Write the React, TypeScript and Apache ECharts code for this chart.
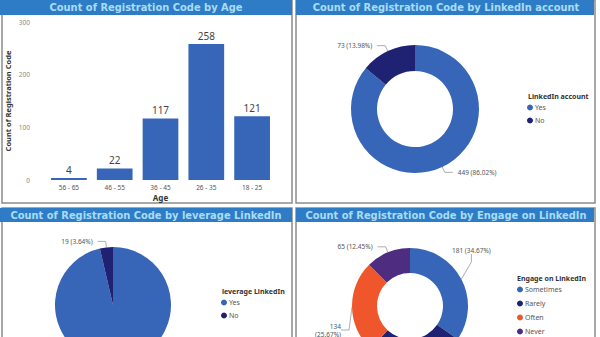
import React, { useEffect, useRef } from 'react';
import * as echarts from 'echarts';

const ageCategories = ['56 - 65', '46 - 55', '36 - 45', '26 - 35', '18 - 25'];
const ageCounts = [4, 22, 117, 258, 121];
const yMax = 300;
const yInterval = 100;

const linkedinNames = ['Yes', 'No'];
const linkedinCounts = [449, 73];

const leverageNames = ['Yes', 'No'];
const leverageCounts = [503, 19];

const engageNames = ['Sometimes', 'Rarely', 'Often', 'Never'];
const engageCounts = [181, 142, 134, 65];

const panelTitles = [
  'Count of Registration Code by Age',
  'Count of Registration Code by LinkedIn account',
  'Count of Registration Code by leverage LinkedIn',
  'Count of Registration Code by Engage on LinkedIn',
];
const legendTitles = ['LinkedIn account', 'leverage LinkedIn', 'Engage on LinkedIn'];

const BLUE = '#3766b8';
const NAVY = '#1f2173';
const ORANGE = '#ef562b';
const PURPLE = '#4e2c80';
const yesNoColors = [BLUE, NAVY];
const engageColors = [BLUE, NAVY, ORANGE, PURPLE];

const TITLE_FONT = "'DejaVu Sans Condensed', 'DejaVu Sans', sans-serif";
const FONT = "'Noto Sans', 'DejaVu Sans', sans-serif";

const sum = (a: number[]) => a.reduce((s, v) => s + v, 0);
const pct = (v: number, total: number) => ((v / total) * 100).toFixed(2);

export default function App() {
  const ref = useRef<HTMLDivElement>(null);

  useEffect(() => {
    if (!ref.current) return;
    const chart = echarts.init(ref.current, undefined, { renderer: 'svg' });

    const frames = [
      { x: 2, y: 0, w: 290, h: 203 },
      { x: 296, y: 0, w: 299, h: 203 },
      { x: 2, y: 208, w: 290, h: 140 },
      { x: 296, y: 208, w: 299, h: 140 },
    ];
    const bars = [
      { x: 0, y: 0, w: 292, h: 15 },
      { x: 296, y: 0, w: 298, h: 15 },
      { x: 0, y: 208, w: 292, h: 14 },
      { x: 296, y: 208, w: 298, h: 14 },
    ];

    const graphic: any[] = [];
    frames.forEach((f) => {
      graphic.push({
        type: 'rect',
        shape: { x: f.x, y: f.y, width: f.w, height: f.h },
        style: { fill: '#ffffff', stroke: '#8c8c8c', lineWidth: 1.5 },
        z: -10,
      });
    });
    bars.forEach((b) => {
      graphic.push({
        type: 'rect',
        shape: { x: b.x, y: b.y, width: b.w, height: b.h },
        style: { fill: '#2f7cc6' },
        z: -5,
      });
    });

    const titleCenters = [
      { x: 146, y: 1.5 },
      { x: 446, y: 1.5 },
      { x: 146, y: 209.5 },
      { x: 446, y: 209.5 },
    ];
    const titles: any[] = panelTitles.map((t, i) => ({
      text: t,
      left: titleCenters[i].x,
      top: titleCenters[i].y,
      textAlign: 'center',
      padding: 0,
      textStyle: {
        color: '#a8dcf6',
        fontSize: 11,
        lineHeight: 12,
        fontWeight: 'bold',
        fontFamily: TITLE_FONT,
      },
    }));
    const legendTitlePos = [
      { x: 528, y: 93 },
      { x: 222, y: 288 },
      { x: 517, y: 275 },
    ];
    legendTitles.forEach((t, i) => {
      titles.push({
        text: t,
        left: legendTitlePos[i].x,
        top: legendTitlePos[i].y,
        padding: 0,
        textStyle: { color: '#333', fontSize: 7, fontWeight: 'bold', fontFamily: FONT },
      });
    });

    const legendCommon = {
      orient: 'vertical',
      icon: 'circle',
      itemWidth: 6,
      itemHeight: 6,
      itemGap: 6,
      padding: 0,
      textStyle: { color: '#555', fontSize: 7, fontFamily: FONT, padding: [0, 0, 0, -3] },
      selectedMode: false,
    };

    const makeFormatter = (values: number[]) => {
      const total = sum(values);
      return (p: any) => `${p.value} (${pct(p.value, total)}%)`;
    };
    const pieLabelBase = {
      show: true,
      color: '#555',
      fontSize: 6.5,
      lineHeight: 8,
      fontFamily: FONT,
    };
    const pieLabelLine = {
      show: true,
      length: 6,
      length2: 8,
      lineStyle: { color: '#999', width: 0.8 },
    };
    const engageTotal = sum(engageCounts);

    chart.setOption({
      animation: false,
      backgroundColor: '#ffffff',
      graphic,
      title: titles,
      legend: [
        { ...legendCommon, left: 527, top: 104, data: linkedinNames },
        { ...legendCommon, left: 221, top: 299, data: leverageNames },
        { ...legendCommon, left: 517, top: 286, data: engageNames, itemGap: 7 },
      ],
      grid: { left: 46, top: 22, width: 229, height: 158 },
      xAxis: {
        type: 'category',
        data: ageCategories,
        name: 'Age',
        nameLocation: 'middle',
        nameGap: 13,
        nameTextStyle: { color: '#333', fontSize: 8, fontWeight: 'bold', fontFamily: FONT },
        axisLine: { show: false },
        axisTick: { show: false },
        axisLabel: { color: '#555', fontSize: 6.5, margin: 4, fontFamily: FONT },
      },
      yAxis: {
        type: 'value',
        min: 0,
        max: yMax,
        interval: yInterval,
        name: 'Count of Registration Code',
        nameLocation: 'middle',
        nameGap: 34,
        nameTextStyle: { color: '#333', fontSize: 7.5, fontWeight: 'bold', fontFamily: FONT },
        axisLine: { show: false },
        axisTick: { show: false },
        splitLine: { show: false },
        axisLabel: { color: '#888', fontSize: 6.5, margin: 16, fontFamily: FONT },
      },
      series: [
        {
          type: 'bar',
          data: ageCounts,
          barWidth: '78%',
          itemStyle: { color: BLUE },
          label: {
            show: true,
            position: 'top',
            distance: 3,
            color: '#444',
            fontSize: 10,
            fontFamily: FONT,
          },
        },
        {
          type: 'pie',
          center: [415, 109],
          radius: [38, 64],
          startAngle: 90,
          clockwise: true,
          data: linkedinNames.map((n, i) => ({
            name: n,
            value: linkedinCounts[i],
            itemStyle: { color: yesNoColors[i] },
          })),
          label: { ...pieLabelBase, formatter: makeFormatter(linkedinCounts) },
          labelLine: pieLabelLine,
        },
        {
          type: 'pie',
          center: [113, 305],
          radius: [0, 58],
          startAngle: 90,
          clockwise: true,
          data: leverageNames.map((n, i) => ({
            name: n,
            value: leverageCounts[i],
            itemStyle: { color: yesNoColors[i] },
            label: { show: i === 1 },
            labelLine: { show: i === 1 },
          })),
          label: { ...pieLabelBase, formatter: makeFormatter(leverageCounts) },
          labelLine: pieLabelLine,
        },
        {
          type: 'pie',
          center: [410, 306],
          radius: [33, 58],
          startAngle: 90,
          clockwise: true,
          data: engageNames.map((n, i) => ({
            name: n,
            value: engageCounts[i],
            itemStyle: { color: engageColors[i] },
            label: n === 'Rarely' ? { show: false } : undefined,
            labelLine: n === 'Rarely' ? { show: false } : undefined,
          })),
          label: {
            ...pieLabelBase,
            formatter: (p: any) =>
              p.name === 'Often'
                ? `${p.value}\n(${pct(p.value, engageTotal)}%)`
                : `${p.value} (${pct(p.value, engageTotal)}%)`,
          },
          labelLine: pieLabelLine,
          labelLayout: (params: any) => {
            if (params.dataIndex === 0) return { x: 452, y: 250, align: 'left', verticalAlign: 'middle' };
            if (params.dataIndex === 2) return { x: 341, y: 330, align: 'right', verticalAlign: 'middle' };
            return {};
          },
        },
      ],
    });

    return () => chart.dispose();
  }, []);

  return (
    <div
      ref={ref}
      style={{ position: 'absolute', left: 0, top: 0, width: 600, height: 337 }}
    />
  );
}
